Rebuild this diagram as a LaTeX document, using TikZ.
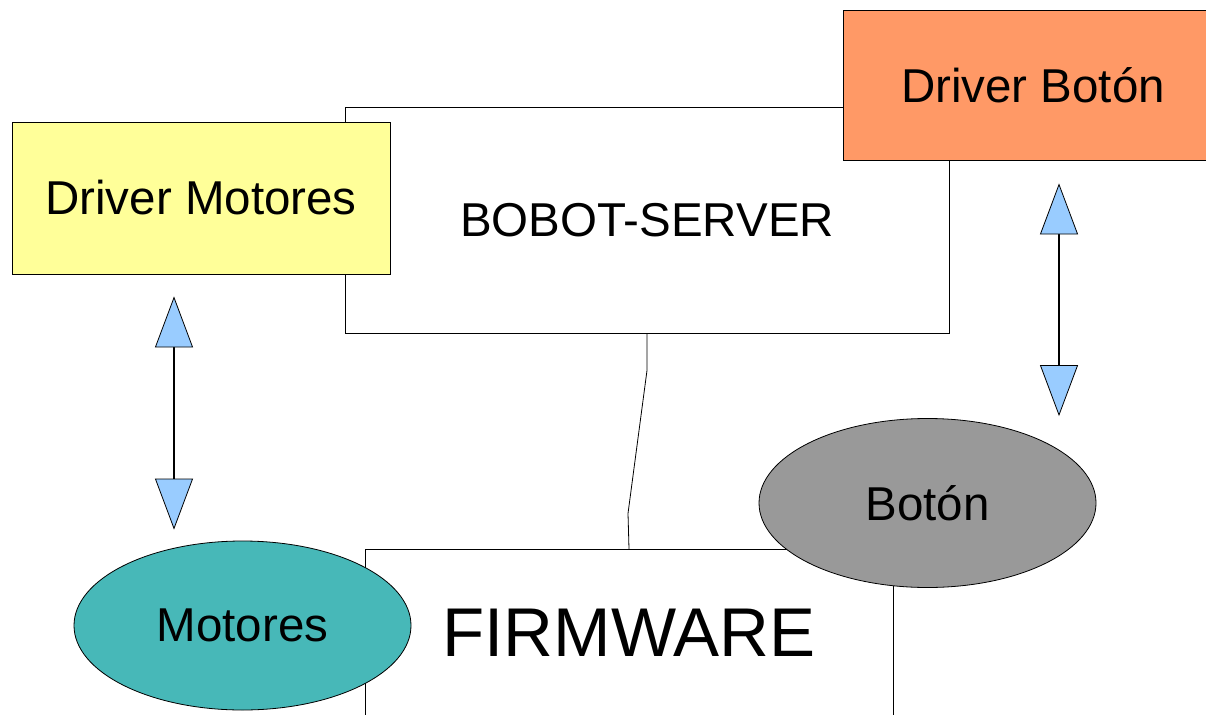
\documentclass[tikz,border=0pt]{standalone}
\usepackage{fontspec}
\setmainfont{Liberation Sans}
\usetikzlibrary{shapes.geometric, arrows.meta}

\definecolor{amarillo}{HTML}{FFFF99}
\definecolor{naranja}{HTML}{FF9966}
\definecolor{turquesa}{HTML}{47B8B8}
\definecolor{gris}{HTML}{999999}
\definecolor{celeste}{HTML}{99CCFF}

\begin{document}
\begin{tikzpicture}[x=1pt, y=-1pt,
    caja/.style={draw, line width=0.8pt, inner sep=0pt, font=\fontsize{47.5}{56}\selectfont},
    bola/.style={ellipse, draw, line width=0.8pt, inner sep=0pt,
        minimum width=337pt, minimum height=169pt, font=\fontsize{47.5}{56}\selectfont},
    punta/.tip={Triangle[width=38pt, length=51pt, fill=celeste, line width=0.8pt]},
    doble/.style={line width=1.4pt, punta-punta},
    cable/.style={line width=0.8pt}]

    \useasboundingbox (0,0) rectangle (1206,714);

    % cajas de fondo
    \node[caja, fill=white, minimum width=604pt, minimum height=226pt] (server) at (647,220) {BOBOT-SERVER};
    \node[caja, fill=white, minimum width=528pt, minimum height=166pt, font=\fontsize{69}{80}\selectfont,
        anchor=north] (fw) at (629,549) {FIRMWARE};

    \draw[cable] (server.south) -- ++(0,37) -- ++(-19,143) -- (fw.north);

    % drivers
    \node[caja, fill=amarillo, minimum width=378pt, minimum height=152pt] (dmot) at (201,198) {Driver Motores};
    \node[caja, fill=naranja, minimum width=380pt, minimum height=150pt] (dbot) at (1033,85) {Driver Botón};

    % hardware
    \node[bola, fill=turquesa] (mot) at (242.5,625.5) {Motores};
    \node[bola, fill=gris] (bot) at (927.5,503) {Botón};

    \draw[doble, shorten <=22pt, shorten >=11pt] ([xshift=-27pt]dmot.south) -- ([xshift=-27pt]dmot.south |- mot.north);
    \draw[doble, shorten <=23pt, shorten >=2pt] ([xshift=26pt]dbot.south) -- ([xshift=26pt]dbot.south |- bot.north);
\end{tikzpicture}
\end{document}
